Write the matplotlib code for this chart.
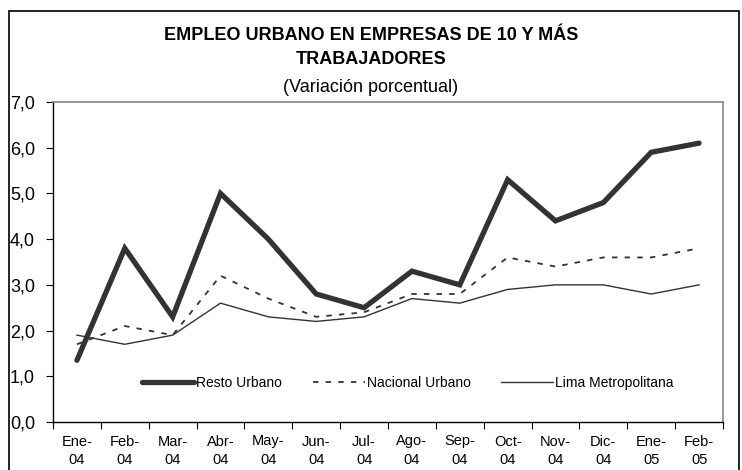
import matplotlib.pyplot as plt
import numpy as np
from matplotlib.patches import Rectangle

plt.rcParams['font.family'] = ['Liberation Sans', 'DejaVu Sans']

# data
months = ['Ene-\n04', 'Feb-\n04', 'Mar-\n04', 'Abr-\n04', 'May-\n04', 'Jun-\n04', 'Jul-\n04',
          'Ago-\n04', 'Sep-\n04', 'Oct-\n04', 'Nov-\n04', 'Dic-\n04', 'Ene-\n05', 'Feb-\n05']
resto = [1.35, 3.8, 2.3, 5.0, 4.0, 2.8, 2.5, 3.3, 3.0, 5.3, 4.4, 4.8, 5.9, 6.1]
nacional = [1.7, 2.1, 1.9, 3.2, 2.7, 2.3, 2.4, 2.8, 2.8, 3.6, 3.4, 3.6, 3.6, 3.8]
lima = [1.9, 1.7, 1.9, 2.6, 2.3, 2.2, 2.3, 2.7, 2.6, 2.9, 3.0, 3.0, 2.8, 3.0]
yticks = [0, 1, 2, 3, 4, 5, 6, 7]

W, H = 742, 470
fig = plt.figure(figsize=(W / 100, H / 100), dpi=100)

# outer chart border
fig.patches.append(Rectangle((9 / W, -0.05), 730 / W, 1.05 - 11 / H, transform=fig.transFigure,
                             fill=False, edgecolor='black', linewidth=1.2))

ax = fig.add_axes([53 / W, 48 / H, 670 / W, 320 / H])
x = np.arange(len(months))

line_col = '#333333'
ax.plot(x, resto, color=line_col, lw=3.8, solid_capstyle='round', solid_joinstyle='miter',
        label='Resto Urbano')
ax.plot(x, nacional, color=line_col, lw=1.3, ls=(0, (3, 4)), label='Nacional Urbano')
ax.plot(x, lima, color=line_col, lw=1.0, label='Lima Metropolitana')

ax.set_xlim(-0.5, len(months) - 0.5)
ax.set_ylim(0, 7)
ax.set_yticks(yticks)
ax.set_yticklabels(['%d,0' % v for v in yticks], fontsize=13)

ax.set_xticks(np.arange(len(months) + 1) - 0.5)
ax.set_xticklabels([])
ax.set_xticks(x, minor=True)
ax.set_xticklabels(months, minor=True, fontsize=10.5, linespacing=1.45)
ax.tick_params(axis='x', which='minor', length=0, pad=9)
ax.tick_params(axis='x', which='major', length=5, direction='out', color='black')
ax.tick_params(axis='y', length=5, direction='out', pad=8)

for s in ['top', 'right']:
    ax.spines[s].set_color('#888888')
    ax.spines[s].set_linewidth(1.2)
for s in ['left', 'bottom']:
    ax.spines[s].set_color('black')
    ax.spines[s].set_linewidth(1.0)

ax.legend(loc='center left', bbox_to_anchor=(0.133, 0.122), ncol=3, frameon=False, fontsize=10,
          handlelength=3.75, handletextpad=0.15, columnspacing=2.2, borderpad=0,
          borderaxespad=0)

# title
fig.text(0.5, 1 - 36 / H, 'EMPLEO URBANO EN EMPRESAS DE 10 Y MÁS', ha='center', va='center',
         fontsize=13, fontweight='bold')
fig.text(0.5, 1 - 59 / H, 'TRABAJADORES', ha='center', va='center', fontsize=13, fontweight='bold')
fig.text(0.5, 1 - 88 / H, '(Variación porcentual)', ha='center', va='center', fontsize=13)

fig.savefig('out.png', dpi=100)
